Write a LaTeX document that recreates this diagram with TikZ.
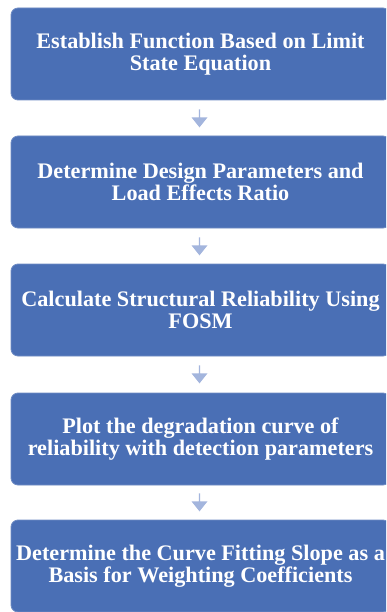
\documentclass[tikz,border=0pt]{standalone}
\usepackage{fontspec}
\setmainfont{Liberation Serif}
\usetikzlibrary{shapes.arrows}
\definecolor{boxblue}{HTML}{4A6FB5}
\definecolor{boxedge}{HTML}{6F8CC4}
\definecolor{arrowblue}{HTML}{A3B5DD}
\tikzset{
  stepbox/.style={draw=boxedge, line width=0.8pt, fill=boxblue, rounded corners=7pt,
    minimum width=379pt, minimum height=92pt, inner sep=0pt,
    text=white, font=\fontsize{22.2}{22}\selectfont\bfseries, align=center},
  downarrow/.style={single arrow, fill=arrowblue, draw=none, shape border rotate=270,
    minimum width=16pt, minimum height=18pt, single arrow head extend=2.5pt,
    single arrow tip angle=77, inner sep=0pt}
}
\begin{document}
\begin{tikzpicture}[x=1pt,y=-1pt]
\clip (0,0) rectangle (386,612);
\fill[white] (0,0) rectangle (386,612);
\node[stepbox] (b1) at (200.5,54) {Establish Function Based on Limit\\State Equation};
\node[stepbox] (b2) at (200.5,182) {Determine Design Parameters and\\Load Effects Ratio};
\node[stepbox] (b3) at (200.5,310) {Calculate Structural Reliability Using\\FOSM};
\node[stepbox] (b4) at (200.5,439) {Plot the degradation curve of\\reliability with detection parameters};
\node[stepbox] (b5) at (200.5,566) {Determine the Curve Fitting Slope as a\\Basis for Weighting Coefficients};
\node[downarrow] (a1) at (199.5,118) {};
\node[downarrow] (a2) at (199.5,246) {};
\node[downarrow] (a3) at (199.5,374) {};
\node[downarrow] (a4) at (199.5,502) {};
\end{tikzpicture}
\end{document}
